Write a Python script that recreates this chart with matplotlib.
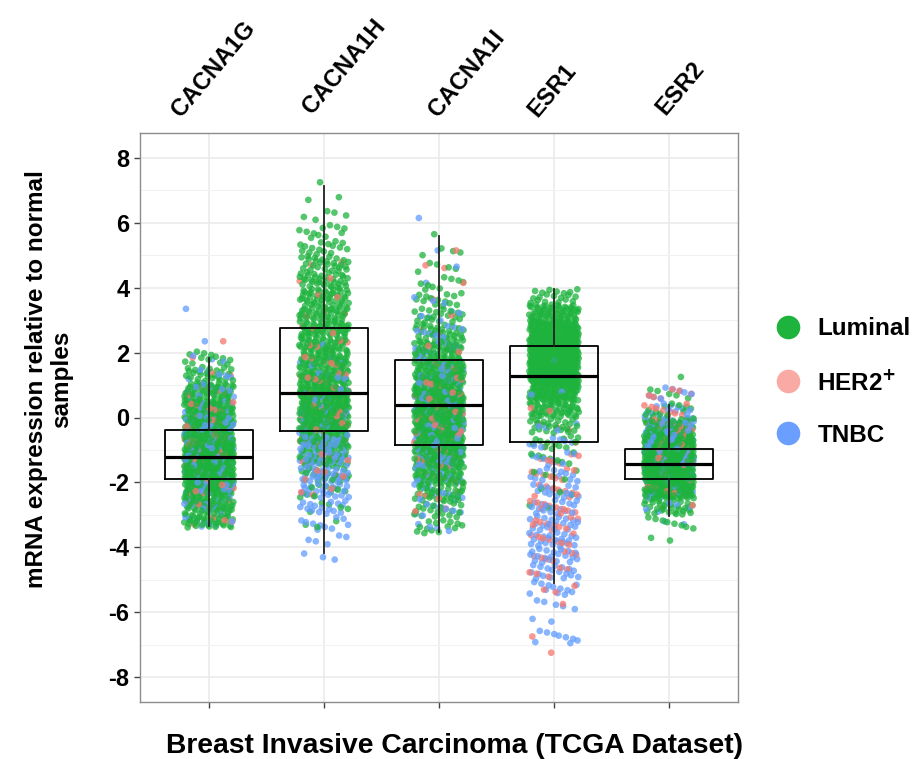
import numpy as np
import matplotlib
matplotlib.use("Agg")
import matplotlib.pyplot as plt
from matplotlib.lines import Line2D

plt.rcParams['font.family'] = ['Liberation Sans', 'DejaVu Sans']
plt.rcParams['font.weight'] = 'bold'

genes = ['CACNA1G', 'CACNA1H', 'CACNA1I', 'ESR1', 'ESR2']
subtypes = ['Luminal', 'HER2$^{\\mathbf{+}}$', 'TNBC']

# box statistics
box_q1 = [-1.91, -0.43, -0.86, -0.77, -1.91]
box_med = [-1.23, 0.74, 0.37, 1.27, -1.42]
box_q3 = [-0.37, 2.75, 1.76, 2.19, -0.96]
whisk_lo = [-3.33, -4.17, -3.52, -5.09, -3.05]
whisk_hi = [1.82, 7.13, 5.59, 3.95, 0.37]

# number of samples per 0.5-wide expression bin (first bin starts at *_start)
bin_w = 0.5
lum_start = [-3.4, -3.5, -3.6, -3.0, -4.0]
lum_counts = [
    [40, 55, 80, 115, 125, 100, 80, 60, 48, 25, 13],
    [3, 5, 11, 19, 34, 54, 75, 82, 75, 61, 54, 48, 48, 43, 41, 34, 27, 16, 11, 5, 2, 1],
    [14, 19, 30, 44, 61, 75, 84, 88, 82, 71, 57, 44, 30, 20, 14, 9, 5, 4, 1],
    [2, 3, 5, 8, 13, 25, 48, 82, 115, 136, 129, 100, 60, 20],
    [2, 8, 30, 90, 190, 190, 150, 45, 12, 5, 1],
]
her2_start = [-3.4, -2.5, -3.1, -7.5, -3.0]
her2_counts = [
    [4, 6, 9, 12, 13, 11, 9, 7, 5, 2, 1, 1],
    [3, 5, 7, 8, 9, 9, 8, 7, 6, 5, 4, 3, 2, 2, 2],
    [2, 4, 6, 8, 9, 10, 10, 8, 7, 5, 3, 2, 1, 1, 1, 2, 1],
    [1, 1, 0, 1, 3, 5, 7, 8, 10, 10, 9, 8, 6, 4, 3, 2, 1, 1],
    [2, 5, 10, 16, 18, 14, 9, 6],
]
tnbc_start = [-3.4, -4.5, -3.6, -7.0, -3.5]
tnbc_counts = [
    [10, 14, 20, 26, 28, 25, 20, 15, 11, 6, 3, 1, 0, 1],
    [3, 5, 10, 16, 23, 28, 26, 21, 16, 12, 9, 5, 4, 1, 1],
    [4, 8, 10, 13, 16, 18, 19, 19, 17, 14, 12, 10, 8, 5, 3, 1, 1, 1, 0, 1],
    [9, 2, 5, 12, 18, 20, 22, 20, 18, 15, 12, 9, 7, 4, 2, 2, 2, 1],
    [2, 5, 12, 25, 40, 45, 30, 13, 8],
]

pt_colors = ['#1DB33D', '#F8766D', '#619CFF']
leg_colors = ['#1DB33D', '#F9AAA4', '#6B9FFF']


def vdc(k, base):
    # van der Corput fraction, used to spread points inside a bin
    f, denom = 0.0, 1.0
    while k > 0:
        denom *= base
        k, r = divmod(k, base)
        f += r / denom
    return f


def expand(start, counts):
    ys = []
    for b, c in enumerate(counts):
        lo = start + b * bin_w
        for k in range(c):
            ys.append(lo + bin_w * (0.5 / c + (1 - 1.0 / c) * vdc(k + 1, 3)))
    return ys


fig = plt.figure(figsize=(9.19, 7.59), dpi=100)
ax = fig.add_axes([140 / 919, 1 - 702 / 759, 598 / 919, 569 / 759])

golden = 0.6180339887
for i, g in enumerate(genes):
    ys, cs = [], []
    for s, (st, cn) in enumerate([(lum_start, lum_counts), (her2_start, her2_counts),
                                  (tnbc_start, tnbc_counts)]):
        y = expand(st[i], cn[i])
        ys += y
        cs += [pt_colors[s]] * len(y)
    ys = np.array(ys)
    cs = np.array(cs)
    n = np.arange(len(ys))
    xs = i + 1 + (np.mod(n * golden + 0.13 * i, 1) - 0.5) * 0.43
    order = np.argsort(np.mod(n * 0.7548776662 + 0.3, 1))
    ax.scatter(xs[order], ys[order], c=cs[order], s=23, alpha=0.75,
               linewidths=0, zorder=2)

stats = []
for i in range(len(genes)):
    stats.append({'med': box_med[i], 'q1': box_q1[i], 'q3': box_q3[i],
                  'whislo': whisk_lo[i], 'whishi': whisk_hi[i], 'fliers': []})
ax.bxp(stats, positions=range(1, len(genes) + 1), widths=0.76, showcaps=False,
       showfliers=False, patch_artist=False, manage_ticks=False,
       boxprops=dict(color='black', linewidth=1.3),
       whiskerprops=dict(color='#222222', linewidth=1.3),
       medianprops=dict(color='black', linewidth=2.3), zorder=3)

ax.set_xlim(0.4, 5.6)
ax.set_ylim(-8.77, 8.77)
ax.set_xticks(range(1, len(genes) + 1))
ax.set_xticklabels([])
ax.set_yticks(range(-8, 9, 2))
ax.set_yticklabels([str(v) for v in range(-8, 9, 2)], fontsize=17, fontweight='bold')
ax.set_yticks(range(-7, 9, 2), minor=True)
ax.tick_params(axis='y', which='minor', length=0)
ax.tick_params(axis='both', which='major', length=4, color='#444444', width=1)
ax.grid(which='major', color='#EBEBEB', linewidth=1.2, zorder=0)
ax.grid(which='minor', axis='y', color='#F2F2F2', linewidth=0.8, zorder=0)
ax.set_axisbelow(True)
for sp in ax.spines.values():
    sp.set_color('#8C8C8C')
    sp.set_linewidth(1.0)

# gene names above the panel (placed by hand in the original)
label_dx = [-28, -12, -1, -17, -4]
label_dy = [15, 18, 15, 15, 17]
for i, g in enumerate(genes):
    ax.annotate(g, xy=(i + 1, 1), xycoords=('data', 'axes fraction'),
                xytext=(label_dx[i] * 0.72, label_dy[i] * 0.72), textcoords='offset points',
                rotation=50, rotation_mode='anchor', ha='left', va='baseline',
                fontsize=17, fontweight='bold')

fig.text(49 / 919, 1 - 379 / 759, 'mRNA expression relative to normal\nsamples',
         rotation=90, ha='center', va='center', multialignment='center',
         fontsize=17.5, fontweight='bold', linespacing=1.1)
fig.text(455 / 919, 1 - 746 / 759, 'Breast Invasive Carcinoma (TCGA Dataset)',
         ha='center', va='center', fontsize=20.3, fontweight='bold')

handles = [Line2D([], [], marker='o', linestyle='', markersize=17,
                  markerfacecolor=c, markeredgewidth=0) for c in leg_colors]
fig.legend(handles, subtypes, loc='center left', bbox_to_anchor=(742 / 919, 1 - 382 / 759),
           frameon=False, labelspacing=1.2, handletextpad=0.2,
           prop={'weight': 'bold', 'size': 17.5})

fig.savefig('out.png', dpi=100)
